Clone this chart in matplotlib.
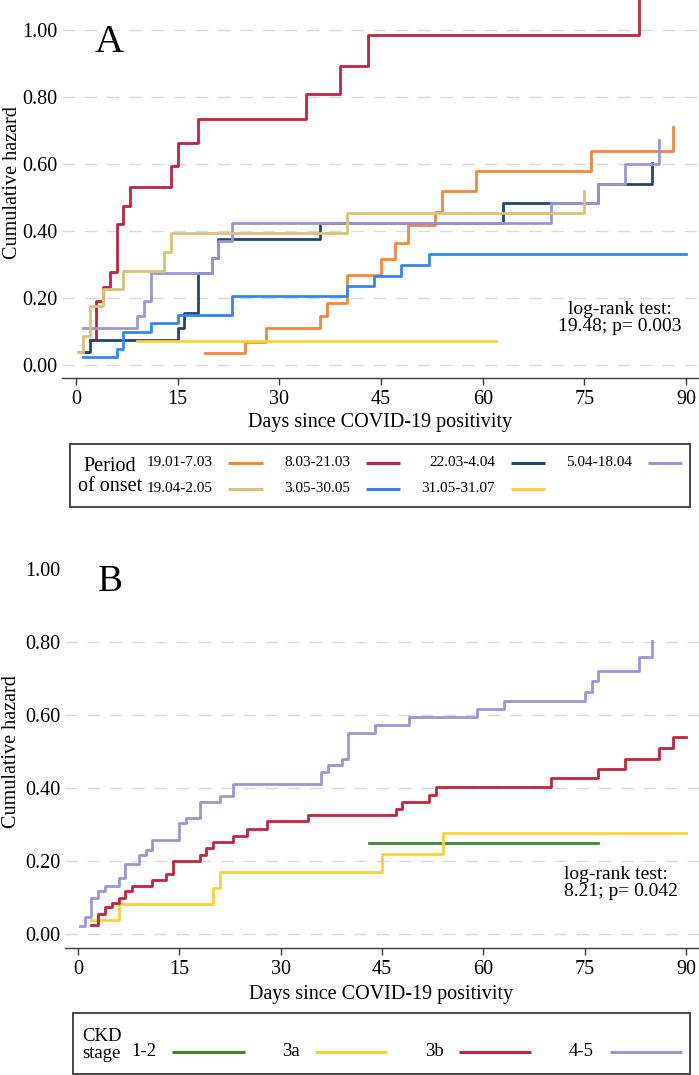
import matplotlib
matplotlib.use('Agg')
import matplotlib.pyplot as plt
from matplotlib.patches import Rectangle

plt.rcParams['font.family'] = ['Liberation Serif', 'DejaVu Serif']
plt.rcParams['lines.scale_dashes'] = False

W, H = 699, 1075

# ---------------- Panel A data: period of onset ----------------
period_labels = ['19.01-7.03', '8.03-21.03', '22.03-4.04', '5.04-18.04',
                 '19.04-2.05', '3.05-30.05', '31.05-31.07']
period_colors = ['#f5873a', '#c4233d', '#27466b', '#9c95d8',
                 '#d8c474', '#2f87f5', '#fdd135']

t_p1 = [19, 25, 28, 36, 37, 40, 45, 47, 49, 53, 54, 59, 76, 88]
h_p1 = [0.035, 0.07, 0.11, 0.146, 0.186, 0.269, 0.315, 0.363, 0.418, 0.458, 0.52, 0.58, 0.64, 0.71]
t_p2 = [2, 3, 4, 5, 6, 7, 8, 14, 15, 18, 34, 39, 43, 83]
h_p2 = [0.076, 0.19, 0.232, 0.279, 0.42, 0.474, 0.532, 0.595, 0.662, 0.734, 0.809, 0.893, 0.985, 1.15]
t_p3 = [0.5, 2, 15, 16, 18, 20, 21, 36, 63, 77, 85]
h_p3 = [0.038, 0.075, 0.11, 0.154, 0.276, 0.32, 0.375, 0.425, 0.483, 0.54, 0.602]
t_p4 = [1, 9, 10, 11, 20, 21, 23, 70, 77, 81, 86]
h_p4 = [0.11, 0.146, 0.19, 0.276, 0.32, 0.37, 0.425, 0.483, 0.54, 0.60, 0.672]
t_p5 = [0.3, 1, 2, 4, 7, 13, 14, 40, 75]
h_p5 = [0.04, 0.087, 0.176, 0.226, 0.28, 0.336, 0.395, 0.455, 0.52]
t_p6 = [1, 6, 7, 11, 15, 23, 40, 44, 48, 52, 90]
h_p6 = [0.025, 0.048, 0.10, 0.124, 0.149, 0.206, 0.236, 0.266, 0.299, 0.33, 0.33]
t_p7 = [9, 62]
h_p7 = [0.073, 0.073]

period_times = [t_p1, t_p2, t_p3, t_p4, t_p5, t_p6, t_p7]
period_haz = [h_p1, h_p2, h_p3, h_p4, h_p5, h_p6, h_p7]
logrank_A = 'log-rank test:\n19.48; p= 0.003'

# ---------------- Panel B data: CKD stage ----------------
ckd_labels = ['1-2', '3a', '3b', '4-5']
ckd_colors = ['#3a8a2b', '#fdd135', '#c4233d', '#9c95d8']

t_c1 = [43, 77]
h_c1 = [0.25, 0.25]
t_c2 = [2, 6, 20, 21, 45, 54, 90]
h_c2 = [0.038, 0.082, 0.125, 0.171, 0.219, 0.278, 0.278]
t_c3 = [2, 3, 4, 5, 6, 7, 8, 11, 13, 14, 18, 19, 20, 23, 25, 28, 34, 47, 48, 52, 53,
        70, 77, 81, 86, 88, 90]
h_c3 = [0.026, 0.054, 0.073, 0.086, 0.10, 0.119, 0.131, 0.148, 0.164, 0.20, 0.216, 0.235,
        0.251, 0.269, 0.288, 0.309, 0.326, 0.343, 0.361, 0.38, 0.402, 0.428, 0.452, 0.479,
        0.509, 0.54, 0.54]
t_c4 = [0.3, 1, 2, 3, 4, 6, 7, 9, 10, 11, 15, 16, 18, 21, 23, 36, 37, 39, 40, 44, 49, 59,
        63, 75, 76, 77, 83, 85]
h_c4 = [0.022, 0.046, 0.10, 0.117, 0.131, 0.155, 0.193, 0.216, 0.23, 0.258, 0.303, 0.317,
        0.362, 0.378, 0.41, 0.445, 0.463, 0.48, 0.551, 0.573, 0.594, 0.616, 0.638, 0.664,
        0.693, 0.721, 0.76, 0.804]

ckd_times = [t_c1, t_c2, t_c3, t_c4]
ckd_haz = [h_c1, h_c2, h_c3, h_c4]
logrank_B = 'log-rank test:\n8.21; p= 0.042'

x_ticks = [0, 15, 30, 45, 60, 75, 90]
y_ticks = [0.0, 0.2, 0.4, 0.6, 0.8, 1.0]
y_ticklabels = ['0.00', '0.20', '0.40', '0.60', '0.80', '1.00']

FS = 14.5
GRID_C = '#d9d9d9'
AX_C = '#3a3a3a'

fig = plt.figure(figsize=(W / 100, H / 100), dpi=100)
fig.patch.set_facecolor('white')


def px_axes(l, t, r, b):
    return fig.add_axes([l / W, 1 - b / H, (r - l) / W, (b - t) / H])


def style_axes(ax, grid_vals):
    for s in ['left', 'top', 'right']:
        ax.spines[s].set_visible(False)
    ax.spines['bottom'].set_color(AX_C)
    ax.spines['bottom'].set_linewidth(1.0)
    ax.set_xticks(x_ticks)
    ax.set_xticklabels([str(v) for v in x_ticks])
    ax.set_yticks(y_ticks)
    ax.set_yticklabels(y_ticklabels)
    ax.tick_params(axis='x', length=5, width=1.0, color=AX_C, labelsize=FS, pad=3.5)
    ax.tick_params(axis='y', length=0, labelsize=FS, pad=3.5)
    for g in grid_vals:
        ax.axhline(g, color=GRID_C, lw=1.0, dashes=(9, 7), zorder=1)
    ax.set_facecolor('none')


# ---------------- Panel A ----------------
axA = px_axes(62, 0, 699, 378)
axA.set_xlim(-2.065, 91.9)
axA.set_ylim(-0.0388, 1.0896)
style_axes(axA, y_ticks)
for t, h, c in zip(period_times, period_haz, period_colors):
    axA.step(t, h, where='post', color=c, lw=2.0, zorder=3)
axA.text(4.9, 0.934, 'A', fontsize=29, ha='center', va='baseline')
axA.text(80.2, 0.140, logrank_A, fontsize=14, ha='center', va='center',
         multialignment='center', linespacing=1.05)
fig.text(17 / W, 1 - 183 / H, 'Cumulative hazard', rotation=90, fontsize=FS,
         ha='center', va='baseline', rotation_mode='anchor')
fig.text(380 / W, 1 - 423 / H, 'Days since COVID-19 positivity', fontsize=FS,
         ha='center', va='center')

# ---------------- Panel B ----------------
axB = px_axes(65, 569, 699, 948)
axB.set_xlim(-1.92, 91.9)
axB.set_ylim(-0.038, 1.0)
style_axes(axB, y_ticks[:-1])
for t, h, c in zip(ckd_times, ckd_haz, ckd_colors):
    axB.step(t, h, where='post', color=c, lw=2.0, zorder=3)
axB.text(4.74, 0.94, 'B', fontsize=27, ha='center', va='baseline')
axB.text(71.9, 0.140, logrank_B, fontsize=14, ha='left', va='center',
         multialignment='left', linespacing=1.05)
fig.text(16.5 / W, 1 - 752 / H, 'Cumulative hazard', rotation=90, fontsize=FS,
         ha='center', va='baseline', rotation_mode='anchor')
fig.text(381 / W, 1 - 995 / H, 'Days since COVID-19 positivity', fontsize=FS,
         ha='center', va='center')

# ---------------- Legends (pixel-coordinate overlay) ----------------
lg = fig.add_axes([0, 0, 1, 1], zorder=10)
lg.set_xlim(0, W)
lg.set_ylim(H, 0)
lg.axis('off')
lg.patch.set_alpha(0)

# Legend A
lg.add_patch(Rectangle((70, 444), 620, 63, fill=False, ec=AX_C, lw=1.3))
lg.text(110, 476.5, 'Period\nof onset', fontsize=FS, ha='center', va='center',
        multialignment='center', linespacing=1.05)
colA_label_end = [212.7, 350, 495, 632]
colA_line = [(228, 263), (365.6, 400), (510.5, 545), (648, 682)]
rowA_y = [463, 489]
for i, (lab, col) in enumerate(zip(period_labels, period_colors)):
    r, c = divmod(i, 4)
    y = rowA_y[r]
    lg.text(colA_label_end[c], y, lab, fontsize=11, ha='right', va='center')
    lg.plot(colA_line[c], [y, y], color=col, lw=2.2, solid_capstyle='butt')

# Legend B
lg.add_patch(Rectangle((72.7, 1013), 617.3, 61, fill=False, ec=AX_C, lw=1.3))
lg.text(82.5, 1045, 'CKD\nstage', fontsize=13.5, ha='left', va='center',
        multialignment='left', linespacing=1.05)
colB_label_end = [156, 299.6, 443.6, 593.8]
colB_line = [(171.6, 245), (315, 387), (459, 531), (610, 682)]
for i, (lab, col) in enumerate(zip(ckd_labels, ckd_colors)):
    y = 1052
    lg.text(colB_label_end[i], y, lab, fontsize=13.5, ha='right', va='center')
    lg.plot(colB_line[i], [y, y], color=col, lw=2.2, solid_capstyle='butt')

fig.savefig('out.png', dpi=100, facecolor='white')
